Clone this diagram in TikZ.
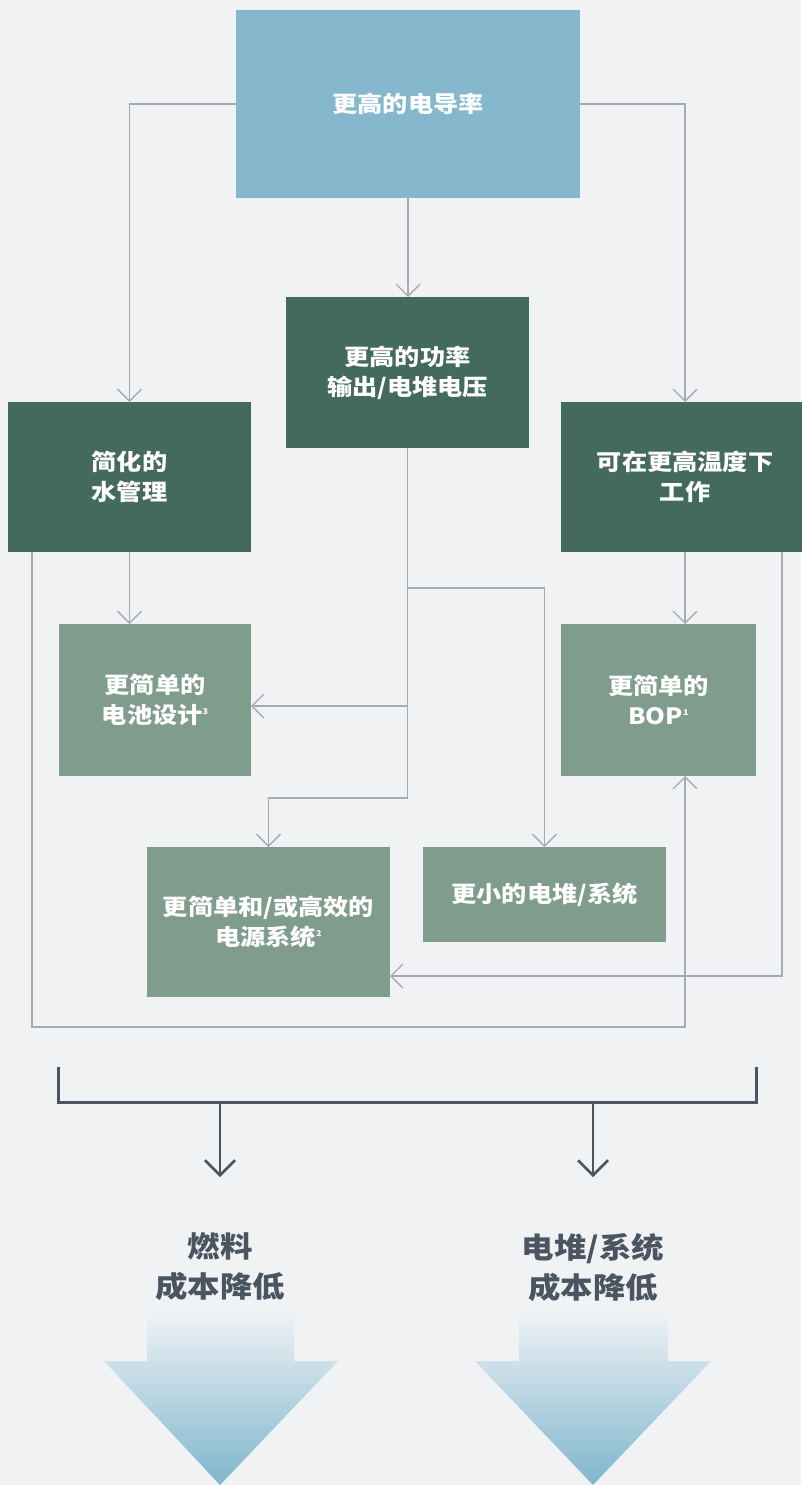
\documentclass[tikz,border=0pt]{standalone}
\usepackage{fontspec}
\setmainfont{Liberation Sans}
\newfontfamily\cjk{Noto Sans CJK SC}[FakeStretch=1.12]
\usetikzlibrary{arrows.meta}
\definecolor{bgc}{RGB}{240,242,244}
\definecolor{topblue}{RGB}{134,184,205}
\definecolor{darkgreen}{RGB}{67,106,91}
\definecolor{lightgreen}{RGB}{127,156,141}
\definecolor{conngray}{RGB}{165,171,176}
\definecolor{darkline}{RGB}{74,85,97}
\definecolor{gradtop}{RGB}{238,242,245}
\definecolor{gradbot}{RGB}{127,182,204}
\newcommand{\supmark}[1]{\raisebox{0.42em}{\fontsize{8}{8}\selectfont #1}}
\begin{document}
\begin{tikzpicture}[x=1pt,y=-1pt,
  box/.style={draw=none, inner sep=0pt, outer sep=0pt, anchor=north west, align=center,
    text=white, font=\cjk\bfseries\fontsize{22.5}{30}\selectfont},
  dbox/.style={box, fill=darkgreen},
  lbox/.style={box, fill=lightgreen},
  conn/.style={draw=conngray, line width=1.3pt, -{Straight Barb[length=12pt,width=24pt]}},
  dline/.style={draw=darkline, line width=3pt},
  darrow/.style={draw=darkline, line width=2.5pt, -{Straight Barb[length=15pt,width=30pt]}},
  lab/.style={inner sep=0pt, align=center, text=darkline, font=\cjk\bfseries\fontsize{29}{40}\selectfont}]
\useasboundingbox (0,0) rectangle (801,1485);
\fill[bgc] (0,0) rectangle (801,1485);

% boxes
\node[box, fill=topblue, minimum width=344pt, minimum height=188pt] (top) at (236,10) {更高的电导率};
\node[dbox, minimum width=243pt, minimum height=151pt] (pw) at (286,297) {更高的功率\\输出/电堆电压};
\node[dbox, minimum width=243pt, minimum height=150pt] (wm) at (8,402) {简化的\\水管理};
\node[dbox, minimum width=248pt, minimum height=150pt] (ht) at (561,402) {可在更高温度下\\工作};
\node[lbox, minimum width=192pt, minimum height=152pt] (cell) at (59,624) {更简单的\\电池设计\supmark{3}};
\node[lbox, minimum width=195pt, minimum height=152pt] (bop) at (561,624) {更简单的\\BOP\supmark{1}};
\node[lbox, minimum width=243pt, minimum height=150pt] (ps) at (147,847) {更简单和/或高效的\\电源系统\supmark{2}};
\node[lbox, minimum width=243pt, minimum height=95pt] (st) at (423,847) {更小的电堆/系统};

% connectors
\draw[conn] (top.west) -| (wm.north);
\draw[conn] (top.east) -| (ht.north);
\draw[conn] (top.south) -- (top.south |- pw.north);
\draw[conn] (wm.south) -- (wm.south |- cell.north);
\draw[conn] ([xshift=24pt]wm.south west) -- ++(0,475) -| ([xshift=124pt]bop.south west);
\draw[conn] (ht.south) -- (ht.south |- bop.north);
\draw[conn] ([xshift=221pt]ht.south west) |- ([yshift=21pt]ps.south east);
\draw[conn] (pw.south) -- ++(0,140) -| (st.north);
\draw[conn] (pw.south) -- ++(0,350) -| (ps.north);
\draw[conn] (pw.south |- cell.east) ++(0,6) -- ([yshift=-6pt]cell.east);

% bottom bracket
\coordinate (bl) at (58,1067);
\coordinate (br) at (756,1067);
\coordinate (a1) at (220,1102);
\coordinate (a2) at (593,1102);
\draw[dline] (bl) -- (bl |- a1) -- (br |- a1) -- (br);
\node[lab] (c1) at (220,1267) {燃料\\成本降低};
\node[lab] (c2) at (593,1267) {电堆/系统\\成本降低};
\draw[darrow] (a1) -- ++(0,75);
\draw[darrow] (a2) -- ++(0,75);

% gradient arrows
\shade[top color=gradtop, bottom color=gradbot]
  (147,1312) -- (294,1312) -- (294,1361) -- (338,1361) -- (220,1485) -- (104,1361) -- (147,1361) -- cycle;
\shade[top color=gradtop, bottom color=gradbot]
  (519,1312) -- (668,1312) -- (668,1361) -- (711,1361) -- (593,1485) -- (475,1361) -- (519,1361) -- cycle;
\end{tikzpicture}
\end{document}
